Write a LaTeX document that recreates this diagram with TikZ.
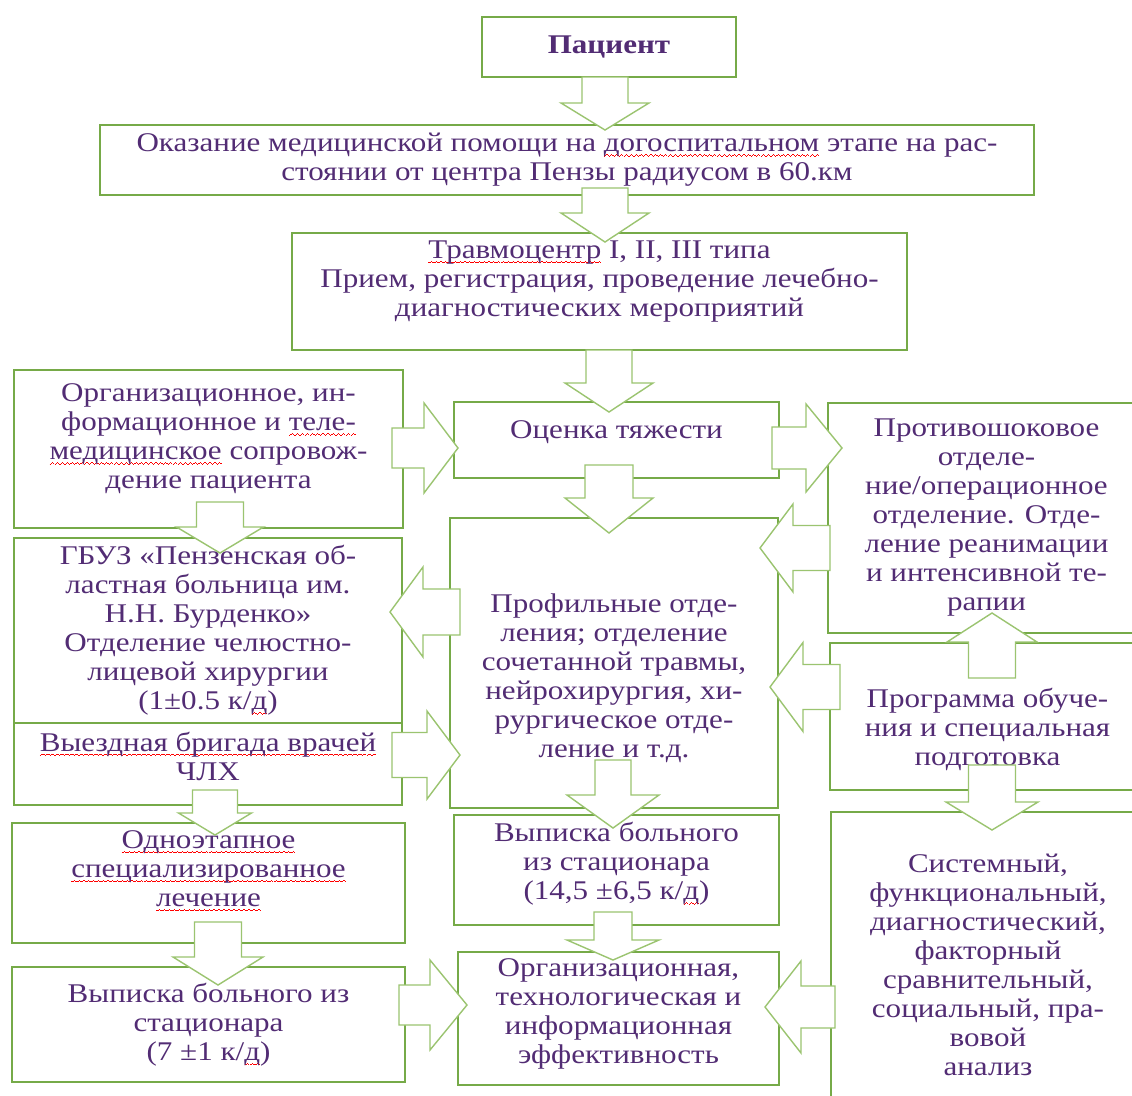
\documentclass[tikz,border=0pt]{standalone}
\usepackage{fontspec}
\setmainfont{Liberation Serif}[FakeStretch=1.15]
\definecolor{boxgreen}{RGB}{118,170,72}
\definecolor{arrowgreen}{RGB}{155,196,112}
\definecolor{inkviolet}{RGB}{82,44,116}
% red wavy spell-check underline, built from small rules
\newsavebox\spellbox
\newcommand\wavebit{\hbox{%
  \rule[-4.8pt]{1.2pt}{0.9pt}\rule[-4.1pt]{1.2pt}{0.9pt}%
  \rule[-3.4pt]{1.2pt}{0.9pt}\rule[-4.1pt]{1.2pt}{0.9pt}}}
\newcommand\spellwave[1]{\sbox\spellbox{#1}%
  \rlap{\hbox to \wd\spellbox{\color{red}\xleaders\wavebit\hfill}}#1}
\tikzset{
  box/.style={draw=boxgreen, line width=2.6pt, fill=white, inner sep=0pt},
  txt/.style={text=inkviolet, align=center, inner sep=0pt,
    font=\fontsize{27}{29}\selectfont},
  arrowline/.style={draw=arrowgreen, fill=white, line width=1.4pt, line join=miter},
  % block arrow, tip at the origin, pointing along +x
  % #1 length, #2 head length, #3 shaft half width, #4 head half width
  pics/blockarrow/.style n args={4}{code={
    \draw[arrowline] (0,0) -- (-#2,#4) -- (-#2,#3) -- (-#1,#3)
      -- (-#1,-#3) -- (-#2,-#3) -- (-#2,-#4) -- cycle;
  }}
}
\begin{document}
\begin{tikzpicture}[x=1pt, y=-1pt]

  \useasboundingbox (0,0) rectangle (1132,1095);
  \fill[white] (0,0) rectangle (1132,1095);
  \clip (0,0) rectangle (1132,1095);

  % top chain
  \node[box, minimum width=254pt, minimum height=60pt] (patient) at (609,47) {};
  \node[txt, font=\fontsize{27}{29}\selectfont\bfseries] (patientT) at (patient.center) {Пациент};

  \node[box, minimum width=934pt, minimum height=70pt] (prehosp) at (567,160) {};
  \node[txt] (prehospT) at (prehosp.center)
    {Оказание медицинской помощи на \spellwave{догоспитальном} этапе на рас-\\
     стоянии от центра Пензы радиусом в 60.км};

  \node[box, minimum width=615pt, minimum height=117pt] (trauma) at (599.5,291.5) {};
  \node[txt] (traumaT) at ([yshift=10pt]trauma.center)
    {\spellwave{Травмоцентр} I, II, III типа\\
     Прием, регистрация, проведение лечебно-\\
     диагностических мероприятий};

  % left column
  \node[box, minimum width=389pt, minimum height=158pt] (support) at (208.5,449) {};
  \node[txt] (supportT) at ([yshift=10pt]support.center)
    {Организационное, ин-\\формационное и \spellwave{теле-}\\\spellwave{медицинское} сопровож-\\дение пациента};

  \node[box, minimum width=388pt, minimum height=185pt] (burdenko) at (208,630.5) {};
  \node[txt] (burdenkoT) at (burdenko.center)
    {ГБУЗ «Пензенская об-\\ластная больница им.\\Н.Н. Бурденко»\\Отделение челюстно-\\лицевой хирургии\\(1±0.5 к/\spellwave{д})};

  \node[box, minimum width=388pt, minimum height=82pt] (brigade) at (208,764) {};
  \node[txt] (brigadeT) at ([yshift=8pt]brigade.center)
    {\spellwave{Выездная бригада врачей}\\ЧЛХ};

  \node[box, minimum width=393pt, minimum height=120pt] (onestage) at (208.5,883) {};
  \node[txt] (onestageT) at ([yshift=12pt]onestage.center)
    {\spellwave{Одноэтапное}\\\spellwave{специализированное}\\\spellwave{лечение}};

  \node[box, minimum width=393pt, minimum height=115pt] (dischL) at (208.5,1024.5) {};
  \node[txt] (dischLT) at (dischL.center)
    {Выписка больного из\\стационара\\(7 ±1 к/\spellwave{д})};

  % middle column
  \node[box, minimum width=325pt, minimum height=76pt] (severity) at (616.5,440) {};
  \node[txt] (severityT) at ([yshift=8pt]severity.center) {Оценка тяжести};

  \node[box, minimum width=328pt, minimum height=290pt] (profile) at (614,663) {};
  \node[txt] (profileT) at ([yshift=-15pt]profile.center)
    {Профильные отде-\\ления; отделение\\сочетанной травмы,\\нейрохирургия, хи-\\рургическое отде-\\ление и т.д.};

  \node[box, minimum width=325pt, minimum height=110pt] (dischM) at (616.5,870) {};
  \node[txt] (dischMT) at ([yshift=6pt]dischM.center)
    {Выписка больного\\из стационара\\(14,5 ±6,5 к/\spellwave{д})};

  \node[box, minimum width=321pt, minimum height=133pt] (effic) at (618.5,1018.5) {};
  \node[txt] (efficT) at ([yshift=5pt]effic.center)
    {Организационная,\\технологическая и\\информационная\\эффективность};

  % right column
  \node[box, minimum width=317pt, minimum height=230pt] (shock) at (986.5,518) {};
  \node[txt] (shockT) at (shock.center)
    {Противошоковое\\отделе-\\ние/операционное\\отделение. Отде-\\ление реанимации\\и интенсивной те-\\рапии};

  \node[box, minimum width=315pt, minimum height=147pt] (training) at (987.5,716.5) {};
  \node[txt] (trainingT) at ([yshift=-13pt]training.center)
    {Программа обуче-\\ния и специальная\\подготовка};

  \node[box, minimum width=314pt, minimum height=293pt] (analysis) at (988,958.5) {};
  \node[txt] (analysisT) at ([yshift=-6pt]analysis.center)
    {Системный,\\функциональный,\\диагностический,\\факторный\\сравнительный,\\социальный, пра-\\вовой\\анализ};

  % block arrows (tip, direction)
  \pic[rotate=-90] at (605,130) {blockarrow={53}{27}{23}{44}};     % patient -> prehosp
  \pic[rotate=-90] at (605,242) {blockarrow={54}{29}{23}{44}};     % prehosp -> trauma
  \pic[rotate=-90] at (609,412) {blockarrow={62}{29}{23}{44}};     % trauma -> severity
  \pic[rotate=-90] at (609,533) {blockarrow={68}{35}{24}{44}};     % severity -> profile
  \pic at (458,448) {blockarrow={66}{34}{20}{45}};                 % support -> severity
  \pic at (842,448) {blockarrow={70}{36}{21}{44}};                 % severity -> shock
  \pic[rotate=180] at (760,548) {blockarrow={70}{33}{22.5}{44}};   % shock -> profile
  \pic[rotate=180] at (770,687) {blockarrow={70}{33}{22.5}{44.5}}; % training -> profile
  \pic[rotate=90] at (992,613) {blockarrow={65}{29}{23.5}{45}};    % training -> shock
  \pic[rotate=-90] at (992,830) {blockarrow={65}{28}{23.5}{46}};   % training -> analysis
  \pic[rotate=180] at (390,612) {blockarrow={70}{33}{23}{45}};     % profile -> burdenko
  \pic at (460,755) {blockarrow={68}{33}{22.5}{44}};               % brigade -> profile
  \pic[rotate=-90] at (220,553) {blockarrow={51}{26}{23.5}{43.5}}; % support -> burdenko
  \pic[rotate=-90] at (215,835) {blockarrow={45}{22}{22.5}{36.5}}; % brigade -> onestage
  \pic[rotate=-90] at (218,985) {blockarrow={63}{28}{23.5}{45}};   % onestage -> dischL
  \pic at (467,1005) {blockarrow={68}{37}{20}{45}};                % dischL -> effic
  \pic[rotate=-90] at (613,828) {blockarrow={68}{33}{18}{46}};     % profile -> dischM
  \pic[rotate=-90] at (613,960) {blockarrow={48}{20}{19}{46}};     % dischM -> effic
  \pic[rotate=180] at (765,1007) {blockarrow={70}{36}{21}{46}};    % analysis -> effic

\end{tikzpicture}
\end{document}
